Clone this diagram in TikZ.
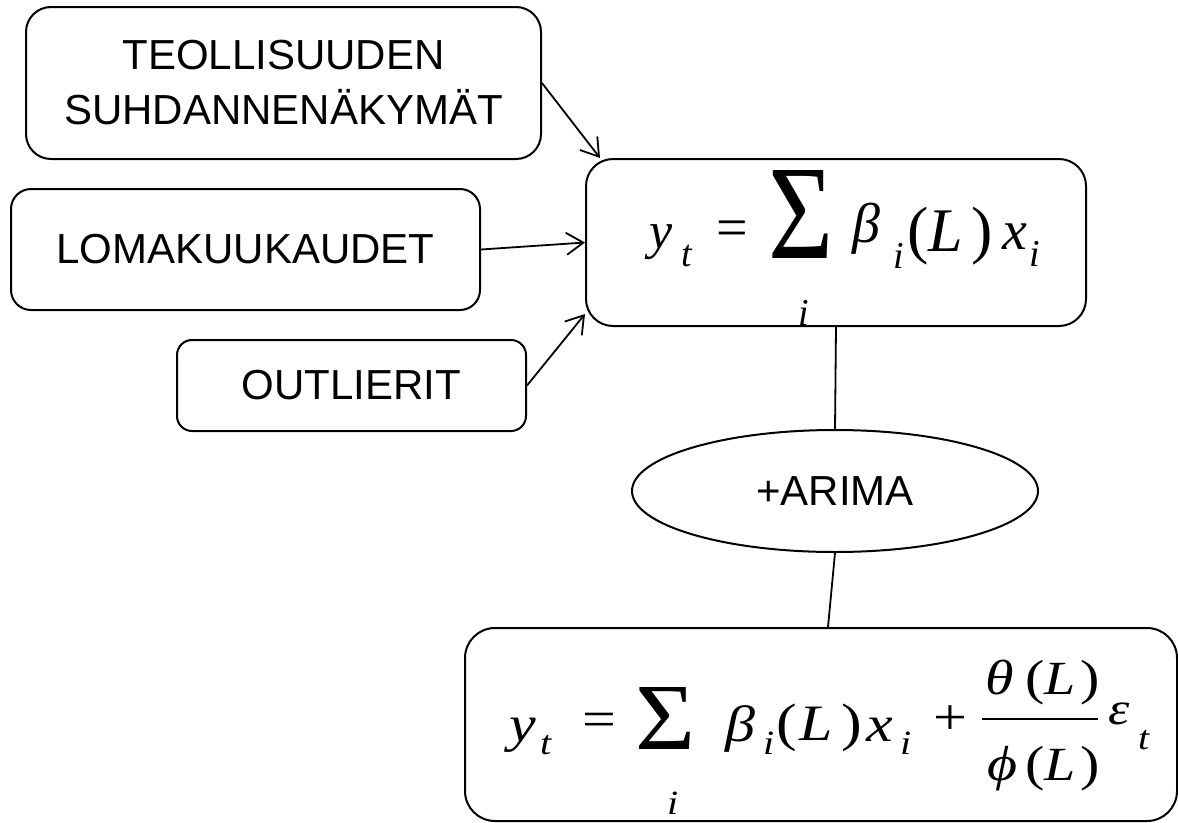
\documentclass[tikz,border=0pt]{standalone}
\usepackage{fontspec}
\usepackage{graphicx}
\setmainfont{Liberation Sans}
\newfontfamily\tms{Liberation Serif}
\usetikzlibrary{arrows.meta,shapes.geometric}
% piece placed at x offset #1, baseline #2 below the box top
\newcommand\fpc[3]{\rlap{\hspace*{#1pt}\raisebox{-#2pt}{#3}}}
\newcommand\fmI[2]{{\fontsize{#1}{#1}\selectfont\tms\itshape #2}}
\newcommand\fmU[2]{{\fontsize{#1}{#1}\selectfont\tms\upshape #2}}
\newcommand\vsc[2]{\scalebox{1}[#1]{#2}}
\newcommand\bigsig[2]{\resizebox*{#1pt}{#2pt}{\fmU{100}{Σ}}}
\tikzset{
  lbl/.style={draw, line width=2pt, inner sep=0pt, align=center,
    font=\fontsize{42}{55}\selectfont},
  fbox/.style={draw, line width=2pt, inner sep=0pt, anchor=north west},
  conn/.style={line width=1.8pt},
  arr/.style={line width=1.8pt, -{Straight Barb[length=17pt,width=22pt]}}
}
\begin{document}
\begin{tikzpicture}[x=1pt,y=-1pt]
\fill[white] (0,0) rectangle (1178,822);
\useasboundingbox (0,0) rectangle (1178,822);

\node[lbl, rounded corners=25pt, minimum width=515pt, minimum height=152pt] (teol) at (283.5,83) {TEOLLISUUDEN\\SUHDANNENÄKYMÄT};
\node[lbl, rounded corners=20pt, minimum width=469pt, minimum height=121pt] (loma) at (245.5,249.5) {LOMAKUUKAUDET};
\node[lbl, rounded corners=15pt, minimum width=349pt, minimum height=91pt] (outl) at (351.5,385.5) {OUTLIERIT};

\node[fbox, rounded corners=27pt] (f1) at (585,158) {\hbox to 500pt{\vrule height 0pt depth 167pt width 0pt%
\fpc{63}{89}{\fmI{52}{y}}%
\fpc{95}{107}{\fmI{38}{t}}%
\fpc{130}{87}{\fmU{56}{=}}%
\fpc{182}{99}{\vsc{1.2}{\fmU{112}{Σ}}}%
\fpc{266}{83}{\fmI{56}{β}}%
\fpc{307}{109}{\fmI{38}{i}}%
\fpc{321}{92}{\fmU{64}{(}}%
\fpc{342}{92}{\fmI{62}{L}}%
\fpc{385}{92}{\fmU{64}{)}}%
\fpc{416}{90}{\fmI{56}{x}}%
\fpc{443}{107}{\fmI{38}{i}}%
\fpc{212}{166}{\fmI{38}{i}}%
\hfil}};

\node[ellipse, draw, line width=2pt, minimum width=406pt, minimum height=122pt, inner sep=0pt,
  font=\fontsize{42}{50}\selectfont] (arima) at (835,491) {+ARIMA};

\node[fbox, rounded corners=30pt] (f2) at (464,627) {\hbox to 712pt{\vrule height 0pt depth 193pt width 0pt%
\fpc{44}{113}{\vsc{0.85}{\fmI{60}{y}}}%
\fpc{75}{126}{\vsc{0.85}{\fmI{40}{t}}}%
\fpc{117}{108}{\vsc{0.85}{\fmU{60}{=}}}%
\fpc{170}{121}{\bigsig{60}{62}}%
\fpc{260}{113}{\vsc{0.85}{\fmI{60}{β}}}%
\fpc{298}{126}{\vsc{0.85}{\fmI{40}{i}}}%
\fpc{311}{112}{\vsc{0.85}{\fmU{62}{(}}}%
\fpc{334}{112}{\vsc{0.85}{\fmI{60}{L}}}%
\fpc{376}{112}{\vsc{0.85}{\fmU{62}{)}}}%
\fpc{401}{113}{\vsc{0.85}{\fmI{60}{x}}}%
\fpc{435}{126}{\vsc{0.85}{\fmI{40}{i}}}%
\fpc{468}{106}{\vsc{0.85}{\fmU{60}{+}}}%
\fpc{517}{92}{\rule{116pt}{2.5pt}}%
\fpc{520}{66}{\vsc{0.85}{\fmI{58}{θ}}}%
\fpc{560}{66}{\vsc{0.85}{\fmU{58}{(}}}%
\fpc{579}{66}{\vsc{0.85}{\fmI{56}{L}}}%
\fpc{615}{66}{\vsc{0.85}{\fmU{58}{)}}}%
\fpc{522}{152}{\vsc{0.85}{\fmI{58}{ϕ}}}%
\fpc{560}{152}{\vsc{0.85}{\fmU{58}{(}}}%
\fpc{579}{152}{\vsc{0.85}{\fmI{56}{L}}}%
\fpc{615}{152}{\vsc{0.85}{\fmU{58}{)}}}%
\fpc{643}{96}{\vsc{0.85}{\fmI{54}{ε}}}%
\fpc{673}{121}{\vsc{0.85}{\fmI{40}{t}}}%
\fpc{202}{186}{\vsc{0.85}{\fmI{40}{i}}}%
\hfil}};

\draw[arr] (teol.east) -- ([xshift=15pt]f1.north west);
\draw[arr] (loma.east) -- (f1.west);
\draw[arr] (outl.east) -- ([yshift=13pt]f1.south west);
\draw[conn] (f1.south) -- (arima.north);
\draw[conn] (arima.south) -- ([xshift=7pt]f2.north);
\end{tikzpicture}
\end{document}
